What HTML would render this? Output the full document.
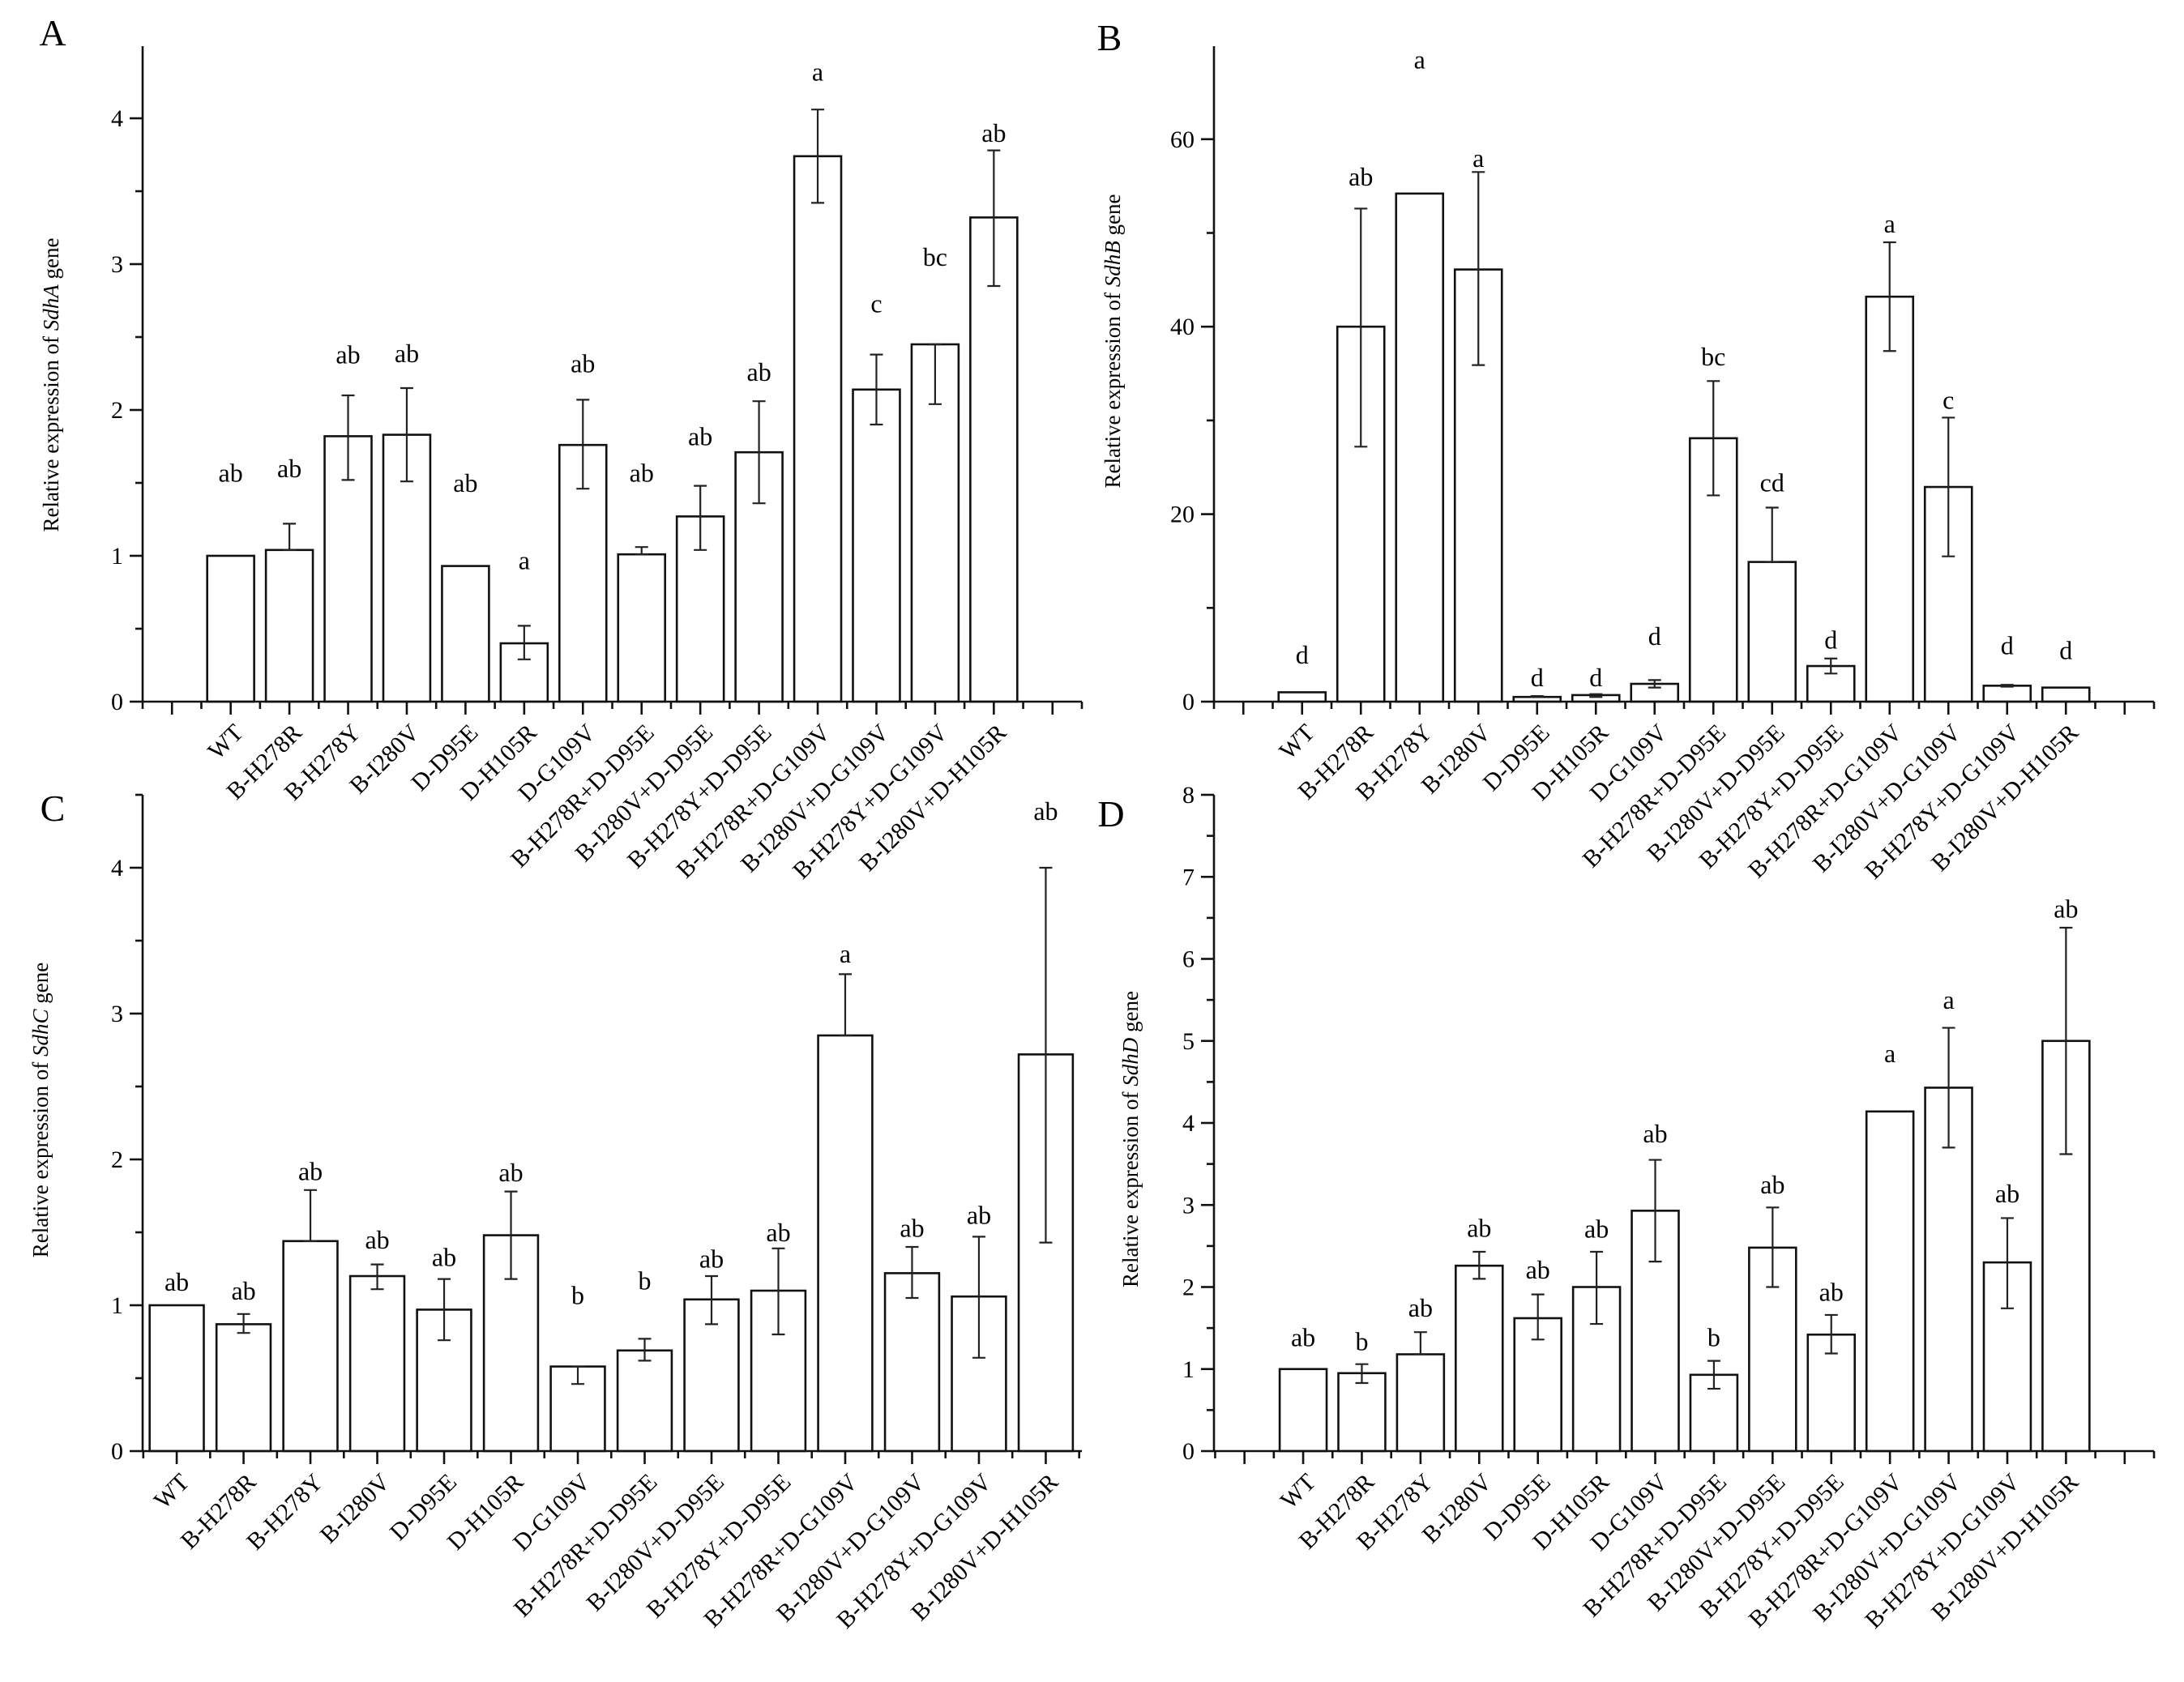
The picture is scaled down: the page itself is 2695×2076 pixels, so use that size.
<!DOCTYPE html>
<html><head><meta charset="utf-8"><style>
html,body{margin:0;padding:0;background:#fff;}
svg{display:block;font-family:"Liberation Serif",serif;}
</style></head><body>
<svg id="fig" width="2695" height="2076" viewBox="0 0 2695 2076" xmlns="http://www.w3.org/2000/svg"></svg>
<script>
const categories = ["WT","B-H278R","B-H278Y","B-I280V","D-D95E","D-H105R","D-G109V","B-H278R+D-D95E","B-I280V+D-D95E","B-H278Y+D-D95E","B-H278R+D-G109V","B-I280V+D-G109V","B-H278Y+D-G109V","B-I280V+D-H105R"];

const valsA = [1.0,1.04,1.82,1.83,0.93,0.40,1.76,1.01,1.27,1.71,3.74,2.14,2.45,3.32];
const loA   = [1.0,1.04,1.52,1.51,0.93,0.29,1.46,1.01,1.04,1.36,3.42,1.90,2.04,2.85];
const hiA   = [1.0,1.22,2.10,2.15,0.93,0.52,2.07,1.06,1.48,2.06,4.06,2.38,2.45,3.78];
const letA  = ["ab","ab","ab","ab","ab","a","ab","ab","ab","ab","a","c","bc","ab"];
const letYA = [1.57,1.60,2.38,2.39,1.50,0.97,2.32,1.57,1.82,2.26,4.32,2.73,3.05,3.90];
const ticksA = [0,1,2,3,4];

const valsB = [1.0,40.0,54.2,46.1,0.5,0.7,1.9,28.1,14.9,3.8,43.2,22.9,1.7,1.5];
const loB   = [1.0,27.2,54.2,35.9,0.5,0.5,1.5,22.0,14.9,3.0,37.4,15.5,1.6,1.5];
const hiB   = [1.0,52.6,54.2,56.5,0.6,0.8,2.3,34.2,20.7,4.6,49.0,30.3,1.8,1.5];
const letB  = ["d","ab","a","a","d","d","d","bc","cd","d","a","c","d","d"];
const letYB = [5.0,56.0,68.5,58.0,2.6,2.6,7.0,36.8,23.4,6.6,51.0,32.2,6.0,5.5];
const ticksB = [0,20,40,60];

const valsC = [1.0,0.87,1.44,1.20,0.97,1.48,0.58,0.69,1.04,1.10,2.85,1.22,1.06,2.72];
const loC   = [1.0,0.81,1.44,1.11,0.76,1.18,0.46,0.62,0.87,0.80,2.85,1.05,0.64,1.43];
const hiC   = [1.0,0.94,1.79,1.28,1.18,1.78,0.58,0.77,1.20,1.39,3.27,1.40,1.47,4.00];
const letC  = ["ab","ab","ab","ab","ab","ab","b","b","ab","ab","a","ab","ab","ab"];
const letYC = [1.16,1.10,1.92,1.45,1.33,1.91,1.07,1.17,1.32,1.50,3.41,1.53,1.62,4.39];
const ticksC = [0,1,2,3,4];

const valsD = [1.0,0.95,1.18,2.26,1.62,2.00,2.93,0.93,2.48,1.42,4.14,4.43,2.30,5.00];
const loD   = [1.0,0.83,1.18,2.10,1.36,1.55,2.31,0.76,2.00,1.19,4.14,3.70,1.74,3.62];
const hiD   = [1.0,1.06,1.45,2.43,1.91,2.43,3.55,1.10,2.97,1.66,4.14,5.16,2.84,6.38];
const letD  = ["ab","b","ab","ab","ab","ab","ab","b","ab","ab","a","a","ab","ab"];
const letYD = [1.39,1.34,1.75,2.72,2.21,2.71,3.87,1.39,3.25,1.94,4.85,5.50,3.14,6.61];
const ticksD = [0,1,2,3,4,5,6,7,8];

const NS="http://www.w3.org/2000/svg";
const svg=document.getElementById('fig');
function mk(tag,attrs,parent){const e=document.createElementNS(NS,tag);for(const k in attrs)e.setAttribute(k,attrs[k]);(parent||svg).appendChild(e);return e;}

function panel(p){
  const g=mk('g',{});
  
  
  const xs=v=>p.x0+(v-p.d0)/(p.d1-p.d0)*(p.x1-p.x0);
  const ys=v=>p.y0-(v-p.v0)/(p.v1-p.v0)*(p.y0-p.yt);
  const step=xs(1)-xs(0), bw=step*p.bf;
  const L=mk('text',{x:p.lx,y:p.ly,'font-size':46,'text-anchor':'middle'},g);L.textContent=p.id;
  
  
  for(let i=0;i<categories.length;i++){
    const cx=xs(i), top=ys(p.vals[i]);
    const r=mk('rect',{x:cx-bw/2,y:top,width:bw,height:p.y0-top,fill:'#fff',stroke:'#111','stroke-width':2.6},g);
    
    
    const lo=ys(p.lo[i]), hi=ys(p.hi[i]);
    if(Math.abs(lo-hi)>1){
      const e=mk('g',{stroke:'#222','stroke-width':2.2},g);
      
      
      mk('line',{x1:cx,x2:cx,y1:lo,y2:hi},e);
      mk('line',{x1:cx-8,x2:cx+8,y1:lo,y2:lo},e);
      mk('line',{x1:cx-8,x2:cx+8,y1:hi,y2:hi},e);
    }
    const t=mk('text',{x:cx,y:ys(p.letY[i])+11,'font-size':32,'text-anchor':'middle'},g);
    t.textContent=p.lets[i];
    
    
    const xl=mk('text',{x:cx+17,y:p.y0+40,'font-size':30,'text-anchor':'end',transform:`rotate(-45 ${cx+17} ${p.y0+40})`},g);
    xl.textContent=categories[i];
    
    
  }
  const ax=mk('g',{stroke:'#111','stroke-width':2.6,fill:'none'},g);
  
  
  mk('line',{x1:p.x0,x2:p.x0,y1:p.y0,y2:p.yt},ax);
  mk('line',{x1:p.x0,x2:p.x1,y1:p.y0,y2:p.y0},ax);
  for(let v=Math.ceil(p.d0*2)/2; v<=p.d1; v+=0.5){
    const x=xs(v), major=Number.isInteger(v);
    mk('line',{x1:x,x2:x,y1:p.y0,y2:p.y0+(major?16:9)},ax);
  }
  const tstep=p.ticks[1]-p.ticks[0];
  for(let v=p.v0; v<=p.v1+1e-9; v+=tstep/2){
    const y=ys(v), major=Math.abs(v/tstep-Math.round(v/tstep))<1e-6;
    mk('line',{x1:p.x0,x2:p.x0-(major?16:9),y1:y,y2:y},ax);
  }
  for(const v of p.ticks){
    const t=mk('text',{x:p.x0-24,y:ys(v)+10,'font-size':30,'text-anchor':'end'},g);t.textContent=v;
    
    
  }
  const yt=mk('text',{x:p.tx,y:p.ty,'font-size':27,'text-anchor':'middle',transform:`rotate(-90 ${p.tx} ${p.ty})`},g);
  yt.innerHTML='Relative expression of <tspan font-style="italic">'+p.gene+'</tspan> gene';
  
  
}

panel({id:'A',gene:'SdhA',x0:176,x1:1335,d0:-1.5,d1:14.5,y0:866,yt:57,v0:0,v1:(866-57)/180,bf:0.8,
  vals:valsA,lo:loA,hi:hiA,lets:letA,letY:letYA,ticks:ticksA,lx:65,ly:56,tx:72,ty:475});
panel({id:'B',gene:'SdhB',x0:1498,x1:2658,d0:-1.5,d1:14.5,y0:866,yt:57,v0:0,v1:(866-57)/11.57,bf:0.8,
  vals:valsB,lo:loB,hi:hiB,lets:letB,letY:letYB,ticks:ticksB,lx:1369,ly:62,tx:1382,ty:421});
panel({id:'C',gene:'SdhC',x0:176,x1:1335,d0:-0.51,d1:13.54,y0:1791,yt:981,v0:0,v1:(1791-981)/180,bf:0.81,
  vals:valsC,lo:loC,hi:hiC,lets:letC,letY:letYC,ticks:ticksC,lx:65,ly:1013,tx:59,ty:1370});
panel({id:'D',gene:'SdhD',x0:1498,x1:2658,d0:-1.52,d1:14.5,y0:1791,yt:981,v0:0,v1:8,bf:0.8,
  vals:valsD,lo:loD,hi:hiD,lets:letD,letY:letYD,ticks:ticksD,lx:1371,ly:1020,tx:1404,ty:1406});
</script>
</body></html>
